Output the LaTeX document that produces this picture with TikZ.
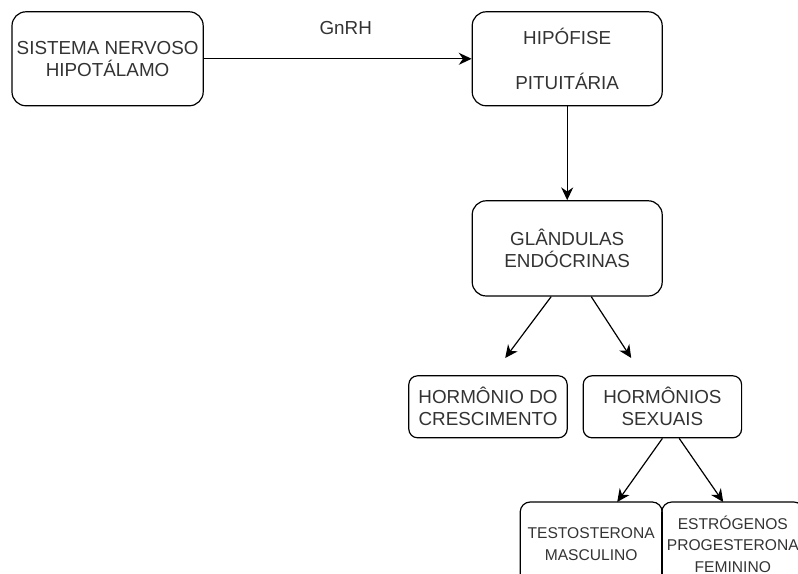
\documentclass[tikz,border=0pt]{standalone}
\usepackage{fontspec}
\setmainfont{Liberation Sans}
\usepackage{xcolor}
\usepackage{tikz}
\usetikzlibrary{arrows.meta}
\definecolor{HXLine}{HTML}{000000}
\definecolor{HXText}{HTML}{333333}

\begin{document}
\begin{tikzpicture}[x=1cm,y=1cm,
  bigbox/.style={draw=HXLine,line width=0.85pt,rounded corners=0.35cm,align=center,inner sep=1pt,text=HXText,font=\fontsize{13.4pt}{15.6pt}\selectfont},
  midbox/.style={bigbox,rounded corners=0.22cm,minimum width=3.96cm,minimum height=1.55cm},
  lowbox/.style={bigbox,rounded corners=0.25cm,minimum width=3.55cm,minimum height=2.1cm,font=\fontsize{11.1pt}{15.4pt}\selectfont},
  arr/.style={draw=HXLine,line width=0.85pt,-{Stealth[length=0.32cm,width=0.3cm]}}]
\path[use as bounding box] (0,0) rectangle (19.95,14.35);
\clip (0,0) rectangle (19.95,14.35);
\node[bigbox,minimum width=4.78cm,minimum height=2.35cm] (hipot) at (2.69,12.88) {SISTEMA NERVOSO\\HIPOTÁLAMO};
\node[bigbox,minimum width=4.75cm,minimum height=2.35cm] (hipof) at (14.18,12.88) {HIPÓFISE\\[0.57cm]PITUITÁRIA};
\node[bigbox,minimum width=4.75cm,minimum height=2.38cm] (glandulas) at (14.18,8.14) {GLÂNDULAS\\ENDÓCRINAS};
\node[midbox] (crescimento) at (12.20,4.18) {HORMÔNIO DO\\CRESCIMENTO};
\node[midbox] (sexuais) at (16.56,4.18) {HORMÔNIOS\\SEXUAIS};
\node[lowbox] (testo) at (14.78,0.75) {TESTOSTERONA\\MASCULINO};
\node[lowbox] (estro) at (18.32,0.75) {ESTRÓGENOS\\PROGESTERONA\\FEMININO};
\coordinate (crescTip) at (12.63,5.40);
\coordinate (sexTip) at (15.78,5.40);
\coordinate (testoTip) at (15.43,1.80);
\coordinate (estroTip) at (18.08,1.80);
\draw[arr] (hipot) -- node[pos=0.53,above=0.6cm,inner sep=0pt,text=HXText,font=\fontsize{13.4pt}{15.6pt}\selectfont] (gnrh) {GnRH} (hipof);
\draw[arr] (hipof) -- (glandulas);
\draw[arr] ([xshift=-0.4cm]glandulas.south) -- (crescTip);
\draw[arr] ([xshift=0.6cm]glandulas.south) -- (sexTip);
\draw[arr] (sexuais.south) -- (testoTip);
\draw[arr] ([xshift=0.42cm]sexuais.south) -- (estroTip);
\end{tikzpicture}
\end{document}
